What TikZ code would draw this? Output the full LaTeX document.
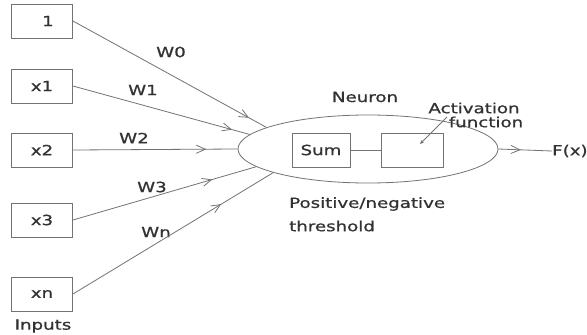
\documentclass[tikz,border=0pt]{standalone}
\usepackage{fontspec}
\setmainfont{DejaVu Sans}[FakeStretch=1.3,FakeBold=0.8]
\usetikzlibrary{arrows.meta,decorations.markings,shapes.geometric}
\definecolor{ln}{RGB}{115,115,115}
\definecolor{tx}{RGB}{50,50,50}
\tikzset{
  inbox/.style={draw=ln, line width=0.9pt, minimum width=61pt, minimum height=34pt, inner sep=0pt, text=tx},
  lbl/.style={text=tx, inner sep=0pt},
  wire/.style={draw=ln, line width=0.8pt},
  midarrow/.style={postaction={decorate}, decoration={markings, mark=at position #1 with {\arrow[ln, line width=0.8pt]{Straight Barb[length=9pt,width=8pt]}}}},
}
\begin{document}
\begin{tikzpicture}[x=1pt,y=-1pt, font=\fontsize{14}{17}\selectfont]
\useasboundingbox (0,0) rectangle (587,335);
\fill[white] (0,0) rectangle (587,335);

% input boxes
\node[inbox] (b0) at (42,21) {\hspace*{12pt}1};
\node[inbox] (b1) at (42,86) {x1};
\node[inbox] (b2) at (42,150) {x2};
\node[inbox] (b3) at (42,220) {x3};
\node[inbox] (bn) at (42,294) {xn};
\node[lbl] (inputs) at (43,326) {Inputs};

% neuron
\node[ellipse, draw=ln, line width=0.8pt, minimum width=260pt, minimum height=68pt, inner sep=0pt] (neuron) at (368,149) {};
\node[inbox, minimum width=58pt] (sum) at (321,150) {Sum};
\node[inbox, minimum width=62pt] (act) at (412,150) {};
\draw[wire] (sum) -- (act);

\node[lbl] (neuronlbl) at (365,97) {Neuron};
\node[lbl] (actlbl1) at (474,108) {Activation};
\node[lbl] (actlbl2) at (486,122) {function};
\coordinate (actfrom) at (447,117);
\coordinate (acttip) at (420,144);
\draw[wire, -{Stealth[length=4pt,width=3.5pt]}] (actfrom) -- (acttip);

\node[lbl, anchor=west] (pos) at (289,204) {Positive/negative};
\node[lbl, anchor=west] (thr) at (289,226) {threshold};

% weight labels
\node[lbl] (w0) at (171,52) {W0};
\node[lbl] (w1) at (143,90) {W1};
\node[lbl] (w2) at (134,138) {W2};
\node[lbl] (w3) at (152,187) {W3};
\node[lbl] (wn) at (156,232) {Wn};

% input wires
\draw[wire, midarrow=0.91] (b0.east) -- (neuron.168.5);
\draw[wire, midarrow=0.9] (b1.east) -- (neuron.173.9);
\draw[wire, midarrow=0.81] (b2.east) -- (neuron.180);
\draw[wire, midarrow=0.76] (b3.east) -- (neuron.189.2);
\draw[wire, midarrow=0.74] (bn.east) -- (neuron.194.8);

% output
\node[lbl, anchor=west] (fx) at (552,151) {F(x)};
\draw[wire, midarrow=0.42] (neuron.east) -- (fx.west);
\end{tikzpicture}
\end{document}
